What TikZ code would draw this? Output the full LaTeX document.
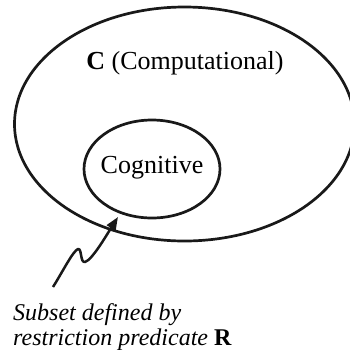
\documentclass[tikz,border=0pt]{standalone}
\usepackage{fontspec}
\setmainfont{Liberation Serif}
\usetikzlibrary{shapes.geometric,arrows.meta}

\tikzset{
  setline/.style={draw=black!90, line width=2.7pt, ellipse, inner sep=0pt},
  biglabel/.style={inner sep=0pt, font=\fontsize{26}{30}\selectfont},
  notelabel/.style={inner sep=0pt, anchor=base west, font=\fontsize{24}{25}\selectfont\itshape},
  pointer/.style={draw=black!90, line width=2.5pt, line join=round,
    -{Triangle[length=13pt,width=10pt]}}
}

\begin{document}
\begin{tikzpicture}[x=1pt,y=-1pt]
  \useasboundingbox (0,0) rectangle (350,349);
  \clip (0,0) rectangle (350,349);

  % outer set C
  \node[setline, minimum width=340pt, minimum height=234pt] (outer) at (184.5,124) {};
  \node[biglabel] (ctitle) at (185,63) {\textbf{C} (Computational)};

  % inner subset
  \node[setline, minimum width=136pt, minimum height=98pt] (inner) at (152,169) {};
  \node[biglabel] (cog) at (152,168) {Cognitive};

  % note below
  \node[notelabel] (note1) at (13,320) {Subset defined by};
  \node[notelabel] (note2) at (13,345) {restriction predicate \textbf{\upshape R}};

  % zigzag pointer from the note up to the inner set
  \coordinate (tail) at (53,287);
  \coordinate (tip) at (118,217);
  \draw[pointer] (tail) .. controls (63,271) and (73,251) .. (78,249)
     .. controls (82,248) and (80,263) .. (85,262)
     .. controls (92,260) and (106,236) .. (tip);
\end{tikzpicture}
\end{document}
